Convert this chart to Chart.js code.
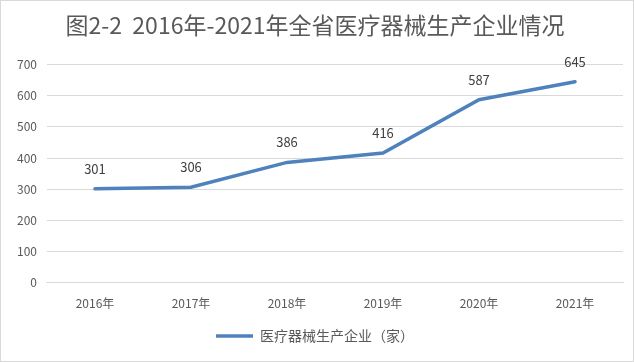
<!DOCTYPE html>
<html>
<head>
<meta charset="utf-8">
<script src="https://cdn.jsdelivr.net/npm/chart.js@4/dist/chart.umd.min.js"></script>
<style>
  html, body { margin: 0; padding: 0; background: #fff; }
  #wrap { position: relative; width: 632px; height: 360px; border: 1px solid #d9d9d9; }
</style>
</head>
<body>
<div id="wrap"><canvas id="c"></canvas></div>
<script>
const years = ['2016年', '2017年', '2018年', '2019年', '2020年', '2021年'];
const companies = [301, 306, 386, 416, 587, 645];
const yTicks = [0, 100, 200, 300, 400, 500, 600, 700];

const textColor = '#595959';
const cjk = '"Noto Sans CJK SC", "Noto Sans", sans-serif';

// values drawn above each point
const valueLabels = {
  id: 'valueLabels',
  afterDatasetsDraw(chart) {
    const ctx = chart.ctx;
    const meta = chart.getDatasetMeta(0);
    ctx.save();
    ctx.font = '13px ' + cjk;
    ctx.fillStyle = '#404040';
    ctx.textAlign = 'center';
    ctx.textBaseline = 'middle';
    meta.data.forEach((pt, i) => {
      ctx.fillText(String(companies[i]), pt.x, pt.y - 20);
    });
    ctx.restore();
  }
};

new Chart(document.getElementById('c'), {
  type: 'line',
  data: {
    labels: years,
    datasets: [{
      label: '医疗器械生产企业（家）',
      data: companies,
      borderColor: '#4f81bd',
      backgroundColor: '#4f81bd',
      borderWidth: 3.5,
      pointRadius: 0,
      tension: 0,
      borderCapStyle: 'round'
    }]
  },
  options: {
    responsive: true,
    maintainAspectRatio: false,
    animation: false,
    layout: { padding: { left: 6, right: 10, top: 0, bottom: 8 } },
    plugins: {
      title: {
        display: true,
        text: '图2-2  2016年-2021年全省医疗器械生产企业情况',
        color: textColor,
        font: { family: cjk, size: 23, weight: 'normal' },
        padding: { top: 10, bottom: 26 }
      },
      legend: {
        position: 'bottom',
        labels: {
          usePointStyle: true,
          pointStyle: 'line',
          pointStyleWidth: 37,
          color: textColor,
          font: { family: cjk, size: 14 },
          padding: 12
        }
      },
      tooltip: { enabled: false }
    },
    scales: {
      x: {
        offset: true,
        grid: { display: false },
        border: { display: true, color: '#d9d9d9' },
        ticks: { color: textColor, font: { family: cjk, size: 12 }, padding: 6 }
      },
      y: {
        min: 0,
        max: 700,
        afterBuildTicks: axis => { axis.ticks = yTicks.map(v => ({ value: v })); },
        grid: { color: '#d9d9d9', drawTicks: false },
        border: { display: false },
        ticks: { color: textColor, font: { family: cjk, size: 12 }, padding: 10 }
      }
    }
  },
  plugins: [valueLabels]
});
</script>
</body>
</html>
